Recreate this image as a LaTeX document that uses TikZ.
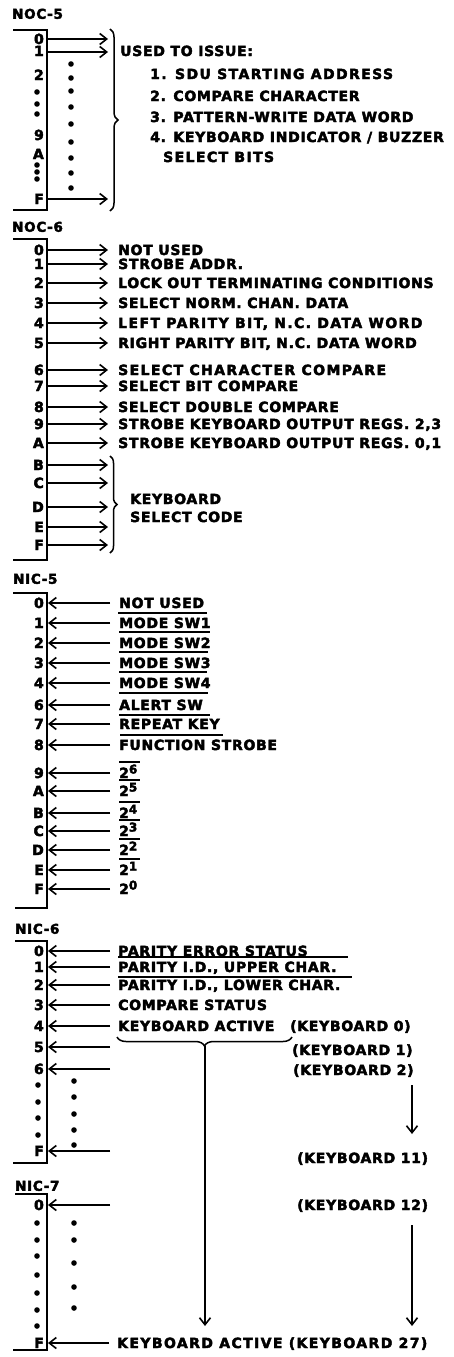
\documentclass[tikz,border=0pt]{standalone}
\usepackage{fontspec}
\newfontfamily\lbl{DejaVu Sans}[UprightFont={* Bold},LetterSpace=5,FakeBold=3]
\newfontfamily\lblw{DejaVu Sans}[UprightFont={* Bold},LetterSpace=10,FakeBold=3]
\usetikzlibrary{arrows.meta,decorations.pathreplacing}
\newcommand{\lf}{\fontsize{14}{14}\lbl}
\newcommand{\lfw}{\fontsize{14}{14}\lblw}
\newcommand{\pw}[1]{2\raisebox{4.5pt}{\fontsize{12}{12}\lbl #1}}
\tikzset{
  bus/.style={line width=1.9pt},
  rarr/.style={line width=1.6pt,-{Straight Barb[length=7pt,width=11pt,line width=1.6pt]}},
  brc/.style={line width=1.5pt,decorate},
  ovl/.style={line width=1.4pt},
  dotf/.style={fill=black},
  txt/.style={font=\lf,inner sep=0pt,text height=10pt,text depth=0pt,anchor=west},
  txtw/.style={txt,font=\lfw},
  rl/.style={font=\lf,inner sep=0pt,text height=10pt,text depth=0pt,anchor=east},
  ttl/.style={font=\fontsize{13.5}{13.5}\lbl,inner sep=0pt,text height=9.5pt,text depth=0pt,anchor=west}
}
\begin{document}
\begin{tikzpicture}[x=1pt,y=-1pt]
\fill[white] (0,0) rectangle (454,1357);
\useasboundingbox (0,0) rectangle (454,1357);

% ================= NOC-5 =================
\node[ttl] (t5) at (12,14) {NOC-5};
\draw[bus] (13,30) -- (47,30) -- (47,210) -- (13,210);
\foreach \y/\l [count=\i] in {39/0,51/1,75/2,135/9,154/A,199/F}
  \node[rl] (o5l\i) at (44,\y) {\l};
\foreach \y in {92,104,114,165,172,179}
  \path[dotf] (37,\y) circle (2.8pt);
\foreach \y in {64,78,91,107,124,142,158,173,188}
  \path[dotf] (71,\y) circle (2.8pt);
\coordinate (o5b1) at (47,39);
\coordinate (o5b2) at (47,52);
\coordinate (o5b3) at (47,199);
\coordinate (o5e1) at (108,39);
\coordinate (o5e2) at (108,52);
\coordinate (o5e3) at (108,199);
\foreach \i in {1,2,3} \draw[rarr] (o5b\i) -- (o5e\i);
\draw[brc,decoration={brace,amplitude=8pt}] (110,29) -- (110,211);
\node[txt] (o5u) at (120,51) {USED TO ISSUE:};
\node[txtw] (o5a) at (150,74) {1. SDU STARTING ADDRESS};
\node[txt] (o5b) at (150,96) {2. COMPARE CHARACTER};
\node[txt] (o5c) at (150,117) {3. PATTERN-WRITE DATA WORD};
\node[txt] (o5d) at (150,137) {4. KEYBOARD INDICATOR / BUZZER};
\node[txtw] (o5e) at (163,157) {SELECT BITS};

% ================= NOC-6 =================
\node[ttl] (t6) at (12,227) {NOC-6};
\draw[bus] (13,239) -- (47,239) -- (47,560) -- (13,560);
\foreach \y/\l/\t/\s [count=\i] in {
  250/0/NOT USED/txt,
  264/1/STROBE ADDR./txt,
  283/2/LOCK OUT TERMINATING CONDITIONS/txt,
  303/3/SELECT NORM. CHAN. DATA/txt,
  {323/4/LEFT PARITY BIT, N.C. DATA WORD/txtw},
  {343/5/RIGHT PARITY BIT, N.C. DATA WORD/txt},
  370/6/SELECT CHARACTER COMPARE/txtw,
  386/7/SELECT BIT COMPARE/txt,
  407/8/SELECT DOUBLE COMPARE/txt,
  {424/9/STROBE KEYBOARD OUTPUT REGS. 2,3/txt},
  {443/A/STROBE KEYBOARD OUTPUT REGS. 0,1/txt}}
{
  \node[rl] (o6l\i) at (44,\y) {\l};
  \coordinate (o6b\i) at (47,\y);
  \node[\s] (o6t\i) at (118,\y) {\t};
  \draw[rarr] (o6b\i) -- ([xshift=-10pt]o6t\i.west);
}
\foreach \y/\l [count=\i] in {465/B,483/C,507/D,527/E,545/F}
{
  \node[rl] (o6m\i) at (44,\y) {\l};
  \coordinate (o6c\i) at (47,\y);
  \coordinate (o6d\i) at (108,\y);
  \draw[rarr] (o6c\i) -- (o6d\i);
}
\draw[brc,decoration={brace,amplitude=7pt}] (110,456) -- (110,553);
\node[txt] (o6k1) at (130,499) {KEYBOARD};
\node[txt] (o6k2) at (130,517) {SELECT CODE};

% ================= NIC-5 =================
\node[ttl] (t7) at (13,579) {NIC-5};
\draw[bus] (13,593) -- (47,593) -- (47,908) -- (15,908);
\foreach \y/\l/\t [count=\i] in {
  603/0/NOT USED,
  623/1/MODE SW1,
  643/2/MODE SW2,
  663/3/MODE SW3,
  683/4/MODE SW4,
  705/6/ALERT SW,
  724/7/REPEAT KEY,
  745/8/FUNCTION STROBE,
  773/9/\pw{6},
  791/A/\pw{5},
  813/B/\pw{4},
  831/C/\pw{3},
  850/D/\pw{2},
  870/E/\pw{1},
  889/F/\pw{0}}
{
  \node[rl] (i5l\i) at (44,\y) {\l};
  \coordinate (i5b\i) at (48,\y);
  \node[txt] (i5t\i) at (119,\y) {\t};
  \draw[rarr] ([xshift=-9pt]i5t\i.west) -- (i5b\i);
}
\foreach \y/\a/\b in {613/118/207,632/119/210,652/119/208,672/119/207,693/119/208,715/119/210,735/120/223,
  762/119/140,780/119/140,802/119/140,820/119/140,839/119/140,859/119/140}
  \draw[ovl] (\a,\y) -- (\b,\y);

% ================= NIC-6 =================
\node[ttl] (t8) at (15,929) {NIC-6};
\draw[bus] (15,941) -- (47,941) -- (47,1163) -- (13,1163);
\foreach \y/\l/\t [count=\i] in {
  951/0/PARITY ERROR STATUS,
  {967/1/PARITY I.D., UPPER CHAR.},
  {985/2/PARITY I.D., LOWER CHAR.},
  1005/3/COMPARE STATUS,
  1026/4/KEYBOARD ACTIVE}
{
  \node[rl] (i6l\i) at (44,\y) {\l};
  \coordinate (i6b\i) at (48,\y);
  \node[txt] (i6t\i) at (118,\y) {\t};
  \draw[rarr] ([xshift=-8pt]i6t\i.west) -- (i6b\i);
}
\foreach \y/\l [count=\i] in {1047/5,1069/6,1151/F}
{
  \node[rl] (i6m\i) at (44,\y) {\l};
  \coordinate (i6c\i) at (48,\y);
  \coordinate (i6d\i) at (110,\y);
  \draw[rarr] (i6d\i) -- (i6c\i);
}
\foreach \y in {1085,1102,1118,1135}
  \path[dotf] (38,\y) circle (2.8pt);
\foreach \y in {1081,1097,1114,1130,1145}
  \path[dotf] (74,\y) circle (2.8pt);
\draw[ovl] (118,957) -- (348,957);
\draw[ovl] (118,977) -- (352,977);
\node[txt] (k0) at (290,1026) {(KEYBOARD 0)};
\node[txt] (k1) at (292,1050) {(KEYBOARD 1)};
\node[txt] (k2) at (293,1070) {(KEYBOARD 2)};
\node[txt] (k11) at (297,1158) {(KEYBOARD 11)};
\draw[brc,decoration={brace,amplitude=9pt}] (292,1037) -- (117,1037);
\coordinate (brtip) at (205,1046);
\coordinate (bigend) at (205,1326);
\draw[rarr] (brtip) -- (bigend);
\coordinate (sa1) at (412,1085);
\coordinate (sa2) at (412,1134);
\draw[rarr] (sa1) -- (sa2);

% ================= NIC-7 =================
\node[ttl] (t9) at (15,1186) {NIC-7};
\draw[bus] (15,1194) -- (47,1194) -- (47,1350) -- (13,1350);
\node[rl] (i7l1) at (44,1205) {0};
\node[rl] (i7l2) at (44,1343) {F};
\coordinate (i7b1) at (48,1205);
\coordinate (i7b2) at (48,1343);
\coordinate (i7e1) at (110,1205);
\node[txtw] (k27) at (117,1343) {KEYBOARD ACTIVE (KEYBOARD 27)};
\draw[rarr] (i7e1) -- (i7b1);
\draw[rarr] ([xshift=-8pt]k27.west) -- (i7b2);
\foreach \y in {1223,1240,1256,1275,1293,1310,1326}
  \path[dotf] (37,\y) circle (2.8pt);
\foreach \y in {1223,1240,1263,1287,1308}
  \path[dotf] (74,\y) circle (2.8pt);
\node[txt] (k12) at (297,1205) {(KEYBOARD 12)};
\coordinate (sb1) at (412,1225);
\coordinate (sb2) at (412,1326);
\draw[rarr] (sb1) -- (sb2);
\end{tikzpicture}
\end{document}
